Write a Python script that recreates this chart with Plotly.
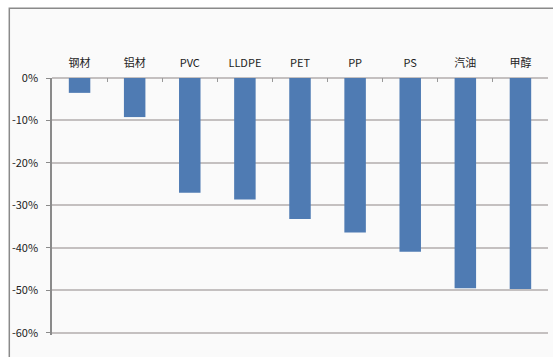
import plotly.graph_objects as go

categories = ["钢材", "铝材", "PVC", "LLDPE", "PET", "PP", "PS", "汽油", "甲醇"]
values = [-0.035, -0.092, -0.27, -0.286, -0.332, -0.364, -0.409, -0.495, -0.497]
y_ticks = [0, -0.1, -0.2, -0.3, -0.4, -0.5, -0.6]
y_tick_labels = ["0%", "-10%", "-20%", "-30%", "-40%", "-50%", "-60%"]

W, H = 553, 357
ml, mr, mt, mb = 52, 5, 78, 22
pw, ph = W - ml - mr, H - mt - mb

fig = go.Figure(go.Bar(
    x=categories, y=values,
    marker=dict(color="#4F7BB3", line=dict(width=0)),
    width=0.39,
))

frame_x0 = (9.3 - ml) / pw
frame_y1 = (H - mb - 8.3) / ph

fig.update_layout(
    width=W, height=H,
    margin=dict(l=ml, r=mr, t=mt, b=mb),
    paper_bgcolor="white",
    plot_bgcolor="rgba(0,0,0,0)",
    showlegend=False,
    font=dict(family="Noto Sans CJK SC, Noto Sans, sans-serif", size=11, color="#222"),
    shapes=[dict(type="rect", xref="paper", yref="paper",
                 x0=frame_x0, x1=1.2, y0=-0.3, y1=frame_y1,
                 line=dict(color="#8a8a8a", width=1.5),
                 fillcolor="#fafafa", layer="below")],
    xaxis=dict(
        side="top", showgrid=False, showline=False, zeroline=False,
        ticks="inside", tickson="boundaries", ticklen=4, tickcolor="#999",
        tickfont=dict(size=11, color="#222"),
        ticklabelstandoff=8,
        range=[-0.5, len(categories) - 0.5],
    ),
    yaxis=dict(
        range=[-0.605, 0], tickvals=y_ticks, ticktext=y_tick_labels,
        showgrid=True, gridcolor="#c4c0c0", gridwidth=1.5,
        showline=True, linecolor="#8a8a8a", linewidth=1.5,
        zeroline=True, zerolinecolor="#c4c0c0", zerolinewidth=1.5,
        ticks="outside", ticklen=4, tickcolor="#8a8a8a",
        tickfont=dict(size=11, color="#222"),
        ticklabelstandoff=6,
    ),
)

fig.write_html("out.html")
